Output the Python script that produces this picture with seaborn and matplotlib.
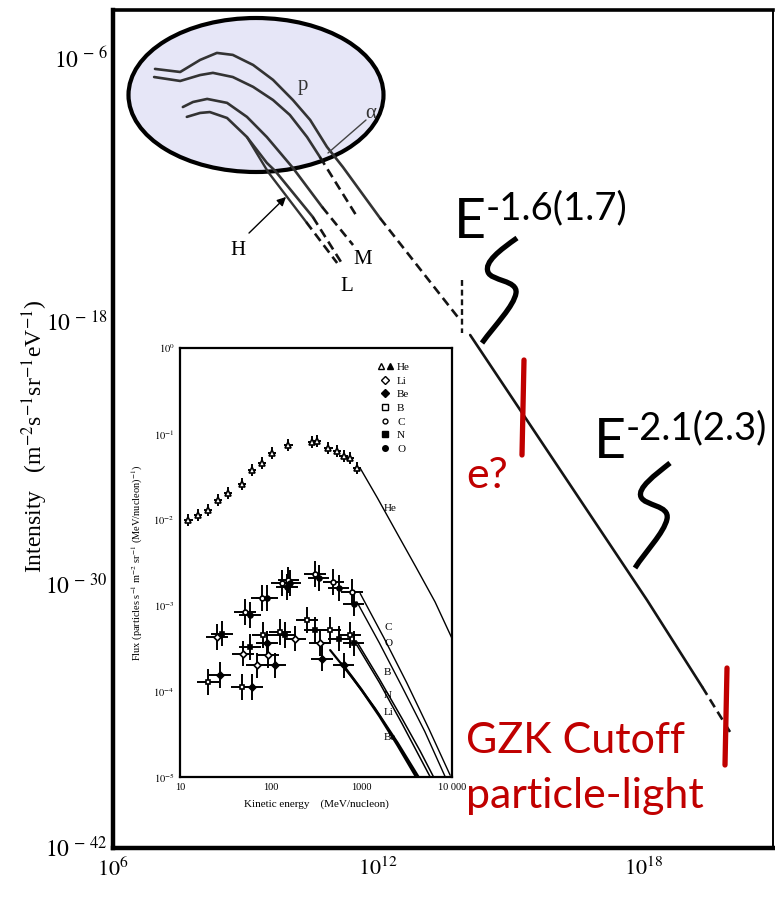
import numpy as np
import pandas as pd
import matplotlib
matplotlib.use("Agg")
import matplotlib.pyplot as plt
import seaborn as sns
from matplotlib.patches import Ellipse, PathPatch
from matplotlib.path import Path
from matplotlib.lines import Line2D
from matplotlib.legend_handler import HandlerTuple

# ---------------- data (log10 units) ----------------
# main spectrum, p curve inside the ellipse and beyond
p_logE = [6.95, 7.52, 7.97, 8.35, 8.71, 9.17, 9.62, 10.07, 10.46, 10.84, 11.20, 12.04]
p_logI = [-6.50, -6.64, -6.09, -5.77, -5.86, -6.32, -7.00, -7.92, -8.83, -10.06, -10.98, -13.31]
p_dash_logE = [12.04, 13.85]
p_dash_logI = [-13.31, -17.96]
knee_logE = [13.90, 13.90]
knee_logI = [-16.14, -18.56]
allp_logE = [14.08, 18.08, 19.33]
allp_logI = [-18.65, -30.75, -34.72]
end_logE = [19.33, 19.96]
end_logI = [-34.72, -36.78]
# alpha
a_logE = [6.93, 7.52, 7.97, 8.26, 8.71, 9.17, 9.62, 10.00, 10.39, 10.68]
a_logI = [-6.87, -7.05, -6.78, -6.68, -6.87, -7.32, -7.92, -8.60, -9.61, -10.52]
a_dash_logE = [10.68, 11.54]
a_dash_logI = [-10.52, -13.31]
# M group
m_logE = [7.58, 7.81, 8.13, 8.58, 9.03, 9.48, 10.07, 10.73]
m_logI = [-8.24, -8.01, -7.87, -8.05, -8.69, -9.61, -11.02, -12.80]
m_dash_logE = [10.73, 11.43]
m_dash_logI = [-12.80, -14.54]
# L group
l_logE = [7.67, 7.97, 8.19, 8.58, 9.03, 9.48, 9.67, 10.52]
l_logI = [-8.69, -8.51, -8.47, -8.74, -9.61, -10.79, -11.16, -13.26]
l_dash_logE = [10.52, 11.20]
l_dash_logI = [-13.26, -15.45]
# H group
h_logE = [9.03, 9.51, 10.37]
h_logI = [-9.61, -11.21, -13.49]
h_dash_logE = [10.37, 11.07]
h_dash_logI = [-13.49, -15.36]

main_xticks = [6, 12, 18]
main_yticks = [-6, -18, -30, -42]

# inset: measured fluxes (MeV/nucleon, particles s^-1 m^-2 sr^-1 (MeV/nucleon)^-1)
he_x = [12.4, 15.9, 20.5, 26.5, 34.2, 48.0, 61.8, 79.8, 102.8, 157, 284, 323, 434, 537, 636, 754, 893]
he_y = [0.0099, 0.0113, 0.0130, 0.0170, 0.0203, 0.0261, 0.0380, 0.0455, 0.0595, 0.0744,
        0.0792, 0.0814, 0.068, 0.0622, 0.0544, 0.052, 0.0397]
c_x = [52, 80, 133, 157, 310, 493, 786]
c_y = [8.4e-4, 1.21e-3, 1.81e-3, 1.98e-3, 2.30e-3, 1.89e-3, 1.42e-3]
o_x = [59, 91, 151, 164, 337, 560, 820]
o_y = [7.7e-4, 1.21e-3, 1.65e-3, 1.81e-3, 2.07e-3, 1.58e-3, 1.05e-3]
b_x = [20.5, 48, 83, 127, 250, 453, 753]
b_y = [1.29e-4, 1.12e-4, 4.5e-4, 4.9e-4, 6.7e-4, 5.2e-4, 4.5e-4]
n_x = [28.9, 59, 144, 310, 560, 820]
n_y = [4.7e-4, 3.3e-4, 4.5e-4, 5.2e-4, 4.1e-4, 3.6e-4]
li_x = [25.4, 50, 70, 94, 186, 351]
li_y = [4.3e-4, 2.75e-4, 2.0e-4, 2.63e-4, 4.1e-4, 3.6e-4]
be_x = [27.7, 62, 91, 112, 367, 636]
be_y = [1.54e-4, 1.12e-4, 3.6e-4, 2.0e-4, 2.4e-4, 2.0e-4]
he_err_dex = (0.045, 0.07)     # (x, y) half-widths of error bars
heavy_err_dex = (0.12, 0.15)

# inset model curves (log10 x, log10 y)
he_line = ([2.987, 3.176, 3.398, 3.602, 3.813, 4.0], [-1.40, -1.745, -2.167, -2.553, -2.959, -3.385])
c_line = ([2.987, 3.25, 3.5, 3.75, 3.98], [-2.86, -3.38, -3.90, -4.45, -4.98])
o_line = ([2.95, 3.2, 3.45, 3.7, 3.926], [-2.957, -3.44, -3.95, -4.47, -5.0])
b_line = ([2.951, 3.2, 3.45, 3.65, 3.797], [-3.424, -3.86, -4.32, -4.70, -5.0])
n_line = ([2.951, 3.2, 3.45, 3.62, 3.76], [-3.463, -3.90, -4.38, -4.72, -5.0])
li_line = ([2.656, 2.9, 3.15, 3.4, 3.632], [-3.521, -3.84, -4.20, -4.60, -5.0])
be_line = ([2.785, 3.0, 3.2, 3.4, 3.606], [-3.677, -3.98, -4.29, -4.63, -5.0])

inset_xticks = [10, 100, 1000, 10000]
inset_xticklabels = ["10", "100", "1000", "10 000"]
inset_yticks = [0, -1, -2, -3, -4, -5]

# ---------------- style ----------------
sns.set_theme(style="white")
plt.rcParams["font.family"] = ["Liberation Serif", "DejaVu Serif"]
plt.rcParams["mathtext.fontset"] = "stix"
plt.rcParams["text.color"] = "black"
plt.rcParams["axes.labelcolor"] = "black"

W, H = 775, 901
fig = plt.figure(figsize=(W / 100, H / 100), dpi=100)
fig.patch.set_facecolor("white")

# main axes: pixel box 113..773 x 10..848
AX_L, AX_R, AX_T, AX_B = 113, 773, 10, 848
ax = fig.add_axes([AX_L / W, (H - AX_B) / H, (AX_R - AX_L) / W, (AX_B - AX_T) / H])
ax.set_xscale("log")
ax.set_yscale("log")
ax.set_xlim(1e6, 10 ** 20.93)
ax.set_ylim(10 ** -42.07, 10 ** -3.81)
ax.set_facecolor("white")


def P(x, y):
    """reference-pixel position -> axes fraction (for annotations only)"""
    return ((x - AX_L) / (AX_R - AX_L), (AX_B - y) / (AX_B - AX_T))


def seg(axis, lx, ly, color="#141414", lw=1.9, ls="-", z=3):
    d = pd.DataFrame({"x": 10 ** np.asarray(lx, float), "y": 10 ** np.asarray(ly, float)})
    sns.lineplot(data=d, x="x", y="y", ax=axis, color=color, linewidth=lw,
                 linestyle=ls, sort=False, legend=False, zorder=z, estimator=None)


dash = (0, (3.5, 2.0))
inner = "#333333"
seg(ax, p_logE, p_logI, inner, 1.9)
seg(ax, p_dash_logE, p_dash_logI, ls=dash)
seg(ax, knee_logE, knee_logI, ls=(0, (2.5, 1.6)), lw=1.7)
seg(ax, allp_logE, allp_logI)
seg(ax, end_logE, end_logI, ls=dash)
seg(ax, a_logE, a_logI, inner, 1.9)
seg(ax, a_dash_logE, a_dash_logI, ls=dash)
seg(ax, m_logE, m_logI, inner, 1.9)
seg(ax, m_dash_logE, m_dash_logI, ls=dash)
seg(ax, l_logE, l_logI, inner, 1.9)
seg(ax, l_dash_logE, l_dash_logI, ls=dash)
seg(ax, h_logE, h_logI, inner, 1.7)
seg(ax, h_dash_logE, h_dash_logI, ls=dash)

# ellipse highlight
ell = Ellipse(P(256, 95), 255 / (AX_R - AX_L), 154 / (AX_B - AX_T), transform=ax.transAxes,
              facecolor="#e6e6f7", edgecolor="black", lw=3, zorder=1)
ax.add_patch(ell)

# curve labels
ser = ["Liberation Serif", "DejaVu Serif"]
ax.text(*P(298, 90), "p", transform=ax.transAxes, fontsize=15, family=ser, color="#333", zorder=5)
ax.text(*P(365, 118), "α", transform=ax.transAxes, fontsize=15, family=ser,
        color="#333", zorder=5)
ax.add_line(Line2D(*zip(P(366, 120), P(328, 153)), transform=ax.transAxes, color="#444", lw=1, zorder=4))
ax.text(*P(230, 255), "H", transform=ax.transAxes, fontsize=15, family=ser, zorder=5)
ax.text(*P(353, 264), "M", transform=ax.transAxes, fontsize=15, family=ser, zorder=5)
ax.text(*P(340, 291), "L", transform=ax.transAxes, fontsize=15, family=ser, zorder=5)
ax.annotate("", xy=P(288, 195), xytext=P(247, 235), xycoords="axes fraction",
            textcoords="axes fraction",
            arrowprops=dict(arrowstyle="-|>", color="black", lw=1, mutation_scale=13))

# spectral index annotations
sans = ["Lato", "DejaVu Sans"]
ax.text(*P(454, 238), "E", transform=ax.transAxes, fontsize=40, family=sans, va="baseline",
        color="black", zorder=6)
ax.text(*P(486, 219), "-1.6(1.7)", transform=ax.transAxes, fontsize=27.5, family=sans,
        va="baseline", color="black", zorder=6)
ax.text(*P(594, 458), "E", transform=ax.transAxes, fontsize=40, family=sans, va="baseline",
        color="black", zorder=6)
ax.text(*P(626, 439), "-2.1(2.3)", transform=ax.transAxes, fontsize=27.5, family=sans,
        va="baseline", color="black", zorder=6)


def squiggle(pts):
    verts = [P(*pts[0])] + [P(*q) for q in pts[1:]]
    codes = [Path.MOVETO] + [Path.CURVE4] * (len(pts) - 1)
    ax.add_patch(PathPatch(Path(verts, codes), transform=ax.transAxes, fill=False,
                           lw=3.8, edgecolor="black", capstyle="butt", zorder=6))


squiggle([(517, 238), (500, 250), (484, 262), (488, 272), (491, 281), (518, 280), (516, 293),
          (514, 306), (495, 325), (482, 343)])
squiggle([(670, 463), (655, 475), (637, 488), (641, 497), (645, 506), (670, 505), (667, 519),
          (664, 533), (645, 552), (635, 568)])

red = "#c00000"
ax.add_line(Line2D(*zip(P(524, 360), P(522, 455)), transform=ax.transAxes, color=red, lw=3.8, zorder=6))
ax.add_line(Line2D(*zip(P(727, 668), P(725, 765)), transform=ax.transAxes, color=red, lw=3.8, zorder=6))
ax.text(*P(466, 488), "e?", transform=ax.transAxes, fontsize=31, family=sans, color=red, va="baseline")
ax.text(*P(466, 753), "GZK Cutoff", transform=ax.transAxes, fontsize=31, family=sans, color=red,
        va="baseline")
ax.text(*P(466, 808), "particle-light", transform=ax.transAxes, fontsize=31, family=sans, color=red,
        va="baseline")

# main axes ticks / spines
ax.xaxis.set_minor_locator(matplotlib.ticker.NullLocator())
ax.yaxis.set_minor_locator(matplotlib.ticker.NullLocator())
ax.set_xticks([10.0 ** k for k in main_xticks])
ax.set_xticklabels([f"$10^{{{k}}}$" for k in main_xticks], fontsize=16)
ax.set_yticks([10.0 ** k for k in main_yticks])
ax.set_yticklabels([f"$10^{{\\,-\\,{-k}}}$" for k in main_yticks], fontsize=17)
ax.tick_params(axis="both", direction="in", length=10, width=1.6, color="black", labelcolor="black")
ax.tick_params(axis="x", pad=7)
ax.tick_params(axis="y", pad=4)
for side, lw in (("left", 3.2), ("bottom", 3.2), ("top", 2.6), ("right", 1.4)):
    ax.spines[side].set_visible(True)
    ax.spines[side].set_color("black")
    ax.spines[side].set_linewidth(lw)
ax.set_xlabel("")
ax.set_ylabel("")
fig.text(35 / W, 1 - 436 / H, "Intensity   (m$^{-2}$s$^{-1}$sr$^{-1}$eV$^{-1}$)", rotation=90,
         fontsize=17, family=ser, ha="center", va="center", color="black")

# ---------------- inset ----------------
IL, IR, IT, IB = 180, 452, 348, 777
axi = fig.add_axes([IL / W, (H - IB) / H, (IR - IL) / W, (IB - IT) / H])
axi.set_xscale("log")
axi.set_yscale("log")
axi.set_xlim(10, 1e4)
axi.set_ylim(1e-5, 1)
axi.set_facecolor("white")
axi.set_zorder(10)


def err(v, dex):
    v = np.asarray(v, float)
    return np.vstack([v - v / 10 ** dex, v * 10 ** dex - v])


def pts(x, y, dex, marker, filled, ms=4):
    axi.errorbar(x, y, xerr=err(x, dex[0]), yerr=err(y, dex[1]), fmt=marker, ms=ms, mew=1.2,
                 mfc="black" if filled else "white", mec="black", ecolor="black",
                 elinewidth=1.4, capsize=0, zorder=4)


pts(he_x, he_y, he_err_dex, "^", False)
pts(c_x, c_y, heavy_err_dex, "o", False, 3.5)
pts(o_x, o_y, heavy_err_dex, "o", True, 3.5)
pts(b_x, b_y, heavy_err_dex, "s", False, 3.5)
pts(n_x, n_y, heavy_err_dex, "s", True, 3.5)
pts(li_x, li_y, heavy_err_dex, "D", False, 3.5)
pts(be_x, be_y, heavy_err_dex, "D", True, 3.5)

for line, lw in ((he_line, 1.0), (c_line, 1.0), (o_line, 1.0), (b_line, 1.1), (n_line, 1.1),
                 (li_line, 1.6), (be_line, 1.9)):
    seg(axi, line[0], line[1], "black", lw)

for lab, yy in (("He", 0.0135), ("C", 5.6e-4), ("O", 3.6e-4), ("B", 1.65e-4), ("N", 9.0e-5),
                ("Li", 5.6e-5), ("Be", 2.9e-5)):
    axi.text(1780, yy, lab, fontsize=8, family=ser, ha="left", va="center", zorder=6, color="black")

axi.xaxis.set_minor_locator(matplotlib.ticker.NullLocator())
axi.yaxis.set_minor_locator(matplotlib.ticker.NullLocator())
axi.set_xticks(inset_xticks)
axi.set_xticklabels(inset_xticklabels, fontsize=7.5)
axi.set_yticks([10.0 ** k for k in inset_yticks])
axi.set_yticklabels([f"$10^{{{k}}}$" for k in inset_yticks], fontsize=7.5)
axi.tick_params(axis="both", direction="in", length=5, width=1, color="black", labelcolor="black", pad=4)
for s in axi.spines.values():
    s.set_visible(True)
    s.set_color("black")
    s.set_linewidth(1.6)
axi.set_xlabel("Kinetic energy    (MeV/nucleon)", fontsize=8, family=ser, labelpad=6, color="black")
axi.set_ylabel("Flux (particles s$^{-1}$ m$^{-2}$ sr$^{-1}$ (MeV/nucleon)$^{-1}$)", fontsize=7.5,
               family=ser, labelpad=6, color="black")

hnd = [
    (Line2D([], [], marker="^", mfc="white", mec="black", ls="none", ms=4),
     Line2D([], [], marker="^", color="black", ls="none", ms=4)),
    Line2D([], [], marker="D", mfc="white", mec="black", ls="none", ms=4),
    Line2D([], [], marker="D", color="black", ls="none", ms=4),
    Line2D([], [], marker="s", mfc="white", mec="black", ls="none", ms=4),
    Line2D([], [], marker="o", mfc="white", mec="black", ls="none", ms=3.5),
    Line2D([], [], marker="s", color="black", ls="none", ms=4),
    Line2D([], [], marker="o", color="black", ls="none", ms=4),
]
axi.legend(hnd, ["He", "Li", "Be", "B", "C", "N", "O"], handler_map={tuple: HandlerTuple(ndivide=None, pad=0.2)},
           loc="upper left", bbox_to_anchor=(0.70, 0.985), frameon=False,
           handlelength=1.3, handletextpad=0.4, labelspacing=0.35, borderpad=0.2,
           prop={"family": ser, "size": 8})

fig.savefig("out.png", dpi=100, facecolor="white")
